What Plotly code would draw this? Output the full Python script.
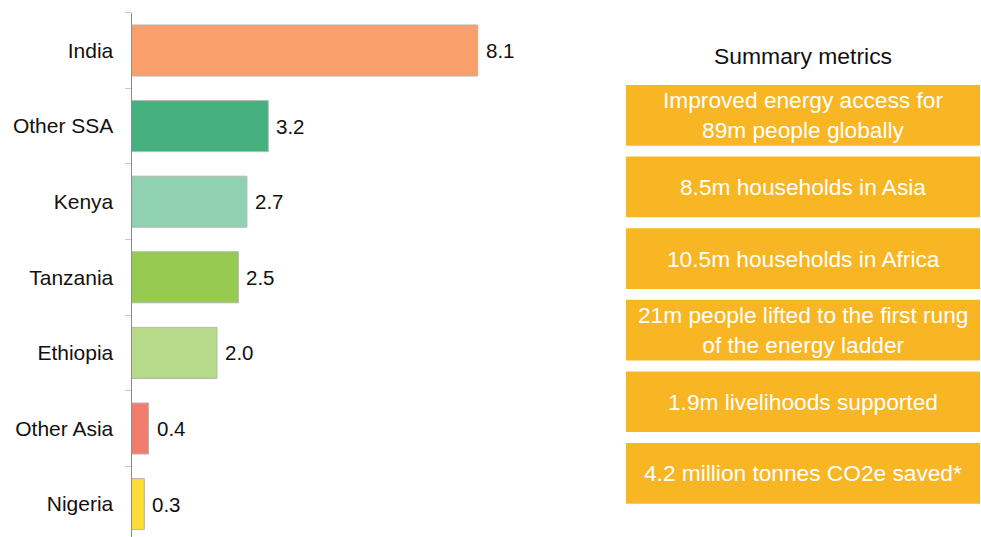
import plotly.graph_objects as go

# Chart data
countries = ["India", "Other SSA", "Kenya", "Tanzania", "Ethiopia", "Other Asia", "Nigeria"]
values = [8.1, 3.2, 2.7, 2.5, 2.0, 0.4, 0.3]
bar_colors = ["#F89F6C", "#47B07F", "#8FD1B0", "#96CA50", "#B6D98A", "#F07D6D", "#FCDD36"]

panel_title = "Summary metrics"
metrics = [
    "Improved energy access for<br>89m people globally",
    "8.5m households in Asia",
    "10.5m households in Africa",
    "21m people lifted to the first rung<br>of the energy ladder",
    "1.9m livelihoods supported",
    "4.2 million tonnes CO2e saved*",
]

W, H = 981, 537
FONT = "Liberation Sans, Arial, sans-serif"

fig = go.Figure()
fig.add_trace(go.Bar(
    x=values,
    y=countries,
    orientation="h",
    width=0.675,
    marker=dict(color=bar_colors, line=dict(color="#B5B5B5", width=1)),
    hoverinfo="x+y",
))

# value labels just past the end of each bar
for c, v in zip(countries, values):
    fig.add_annotation(
        x=v, y=c, xref="x", yref="y",
        text=f"{v:.1f}", showarrow=False,
        xanchor="left", yanchor="middle", xshift=6,
        font=dict(family=FONT, size=20.5, color="#111111"),
    )

# right-hand summary panel
box_left, box_right = 626 / W, 980 / W
box_h = 60.7
box_top0, box_step = 85.0, 71.6
fig.add_annotation(
    x=(626 + 980) / 2 / W, y=1 - 56.5 / H, xref="paper", yref="paper",
    text=panel_title, showarrow=False, xanchor="center", yanchor="middle",
    font=dict(family=FONT, size=22.9, color="#111111"),
)
for i, m in enumerate(metrics):
    top = box_top0 + i * box_step
    bot = top + box_h
    fig.add_shape(
        type="rect", xref="paper", yref="paper",
        x0=box_left, x1=box_right, y0=1 - bot / H, y1=1 - top / H,
        fillcolor="#F8B624", line=dict(width=0), layer="below",
    )
    fig.add_annotation(
        x=(box_left + box_right) / 2, y=1 - (top + bot) / 2 / H,
        xref="paper", yref="paper", text=m, showarrow=False,
        xanchor="center", yanchor="middle", align="center",
        font=dict(family=FONT, size=22.7, color="#FFFFFF"),
    )

axis_x0 = 131.5
plot_x1 = 600.0
px_per_unit = (477.7 - axis_x0) / 8.1
top_px = 12.7
band = 75.6

fig.update_layout(
    width=W, height=H,
    margin=dict(l=0, r=0, t=0, b=0),
    paper_bgcolor="white", plot_bgcolor="white",
    showlegend=False,
    font=dict(family=FONT, size=20.5, color="#111111"),
    xaxis=dict(
        domain=[axis_x0 / W, plot_x1 / W],
        range=[0, (plot_x1 - axis_x0) / px_per_unit],
        visible=False, fixedrange=True,
    ),
    yaxis=dict(
        domain=[0, 1 - top_px / H],
        range=[-0.5 + (H - top_px) / band, -0.5],
        type="category",
        showline=True, linecolor="#8C8C8C", linewidth=1,
        ticks="outside", ticklen=6, tickcolor="#C8C8C8", tickwidth=1,
        tickson="boundaries",
        ticklabelstandoff=13,
        showgrid=False, zeroline=False,
        tickfont=dict(family=FONT, size=21, color="#111111"),
        fixedrange=True,
    ),
)

fig.write_html("out.html")
